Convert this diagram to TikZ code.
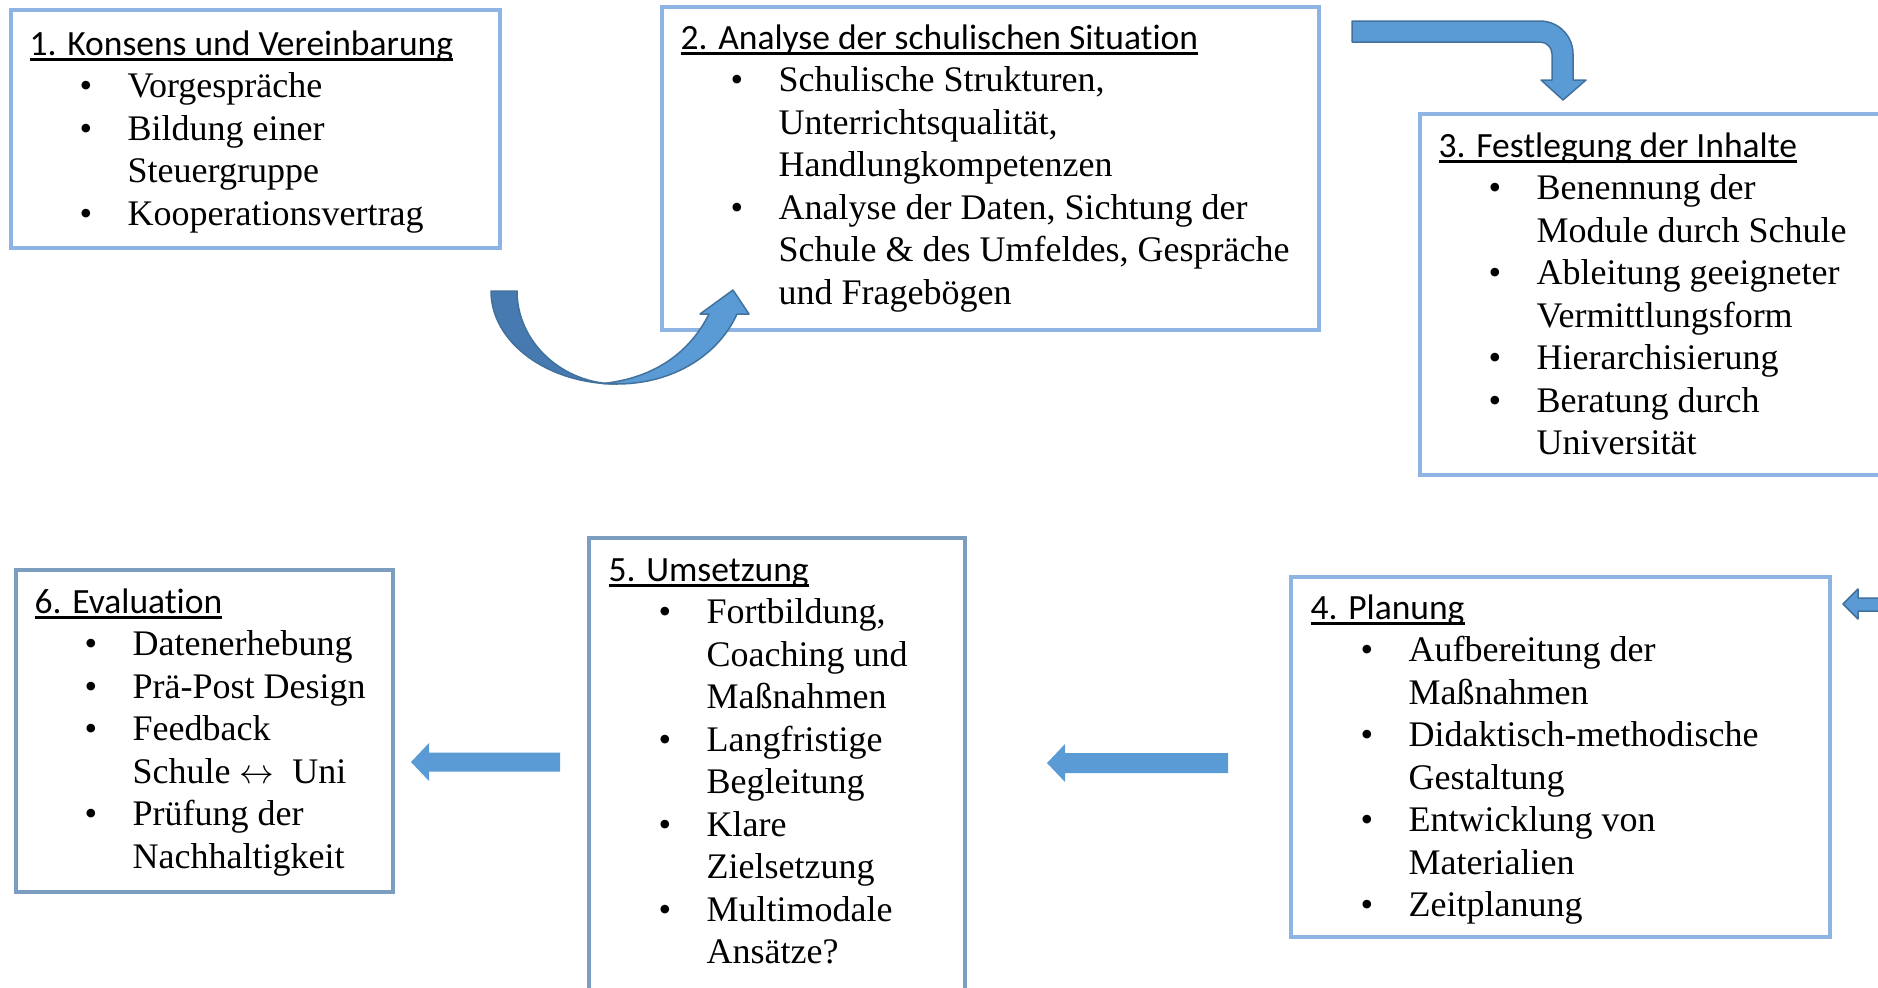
\documentclass[tikz,border=0pt]{standalone}
\usepackage{fontspec}
\setmainfont{Liberation Serif}
\newfontfamily\titlefont{Carlito}[Ligatures=NoCommon]
\definecolor{boxA}{RGB}{142,180,227}
\definecolor{boxB}{RGB}{124,157,192}
\definecolor{arrowfill}{RGB}{91,155,213}
\definecolor{arrowdark}{RGB}{70,122,176}
\definecolor{arrowline}{RGB}{65,113,156}
\newsavebox\ttlbox
\newcommand\ttl[1]{\leavevmode{\titlefont\fontsize{35.5bp}{42.5bp}\selectfont\sbox\ttlbox{#1}\rlap{\rule[-6bp]{\wd\ttlbox}{2.6bp}}\usebox\ttlbox}}
\newcommand\itm[1]{\hspace*{50bp}\makebox[48bp][l]{\textbullet}#1}
\newcommand\cnt[1]{\hspace*{98bp}#1}
\newcommand\boxtext[1]{\parbox[t]{800bp}{\fontsize{36bp}{42.5bp}\selectfont\raggedright #1}}
\begin{document}
\begin{tikzpicture}[x=1bp,y=-1bp,
  stepbox/.style={draw=boxA, line width=4bp, fill=none, inner sep=0pt, anchor=north west},
  stepboxB/.style={stepbox, draw=boxB},
  content/.style={anchor=base west, inner sep=0pt},
  blockarrow/.style={fill=arrowfill, draw=arrowline, line width=1.5bp, line join=round},
  flatarrow/.style={fill=arrowfill}]
\useasboundingbox (0,0) rectangle (1878,987);
\clip (0,0) rectangle (1878,987);

% boxes
\node[stepbox, minimum width=489bp, minimum height=238bp] (b1) at (9,8) {};
\node[stepbox, minimum width=657bp, minimum height=323bp] (b2) at (660,5) {};
\node[stepbox, minimum width=480bp, minimum height=361bp] (b3) at (1418,112) {};
\node[stepbox, minimum width=539bp, minimum height=360bp] (b4) at (1289,575) {};
\node[stepboxB, minimum width=376bp, minimum height=480bp] (b5) at (587,536) {};
\node[stepboxB, minimum width=377bp, minimum height=322bp] (b6) at (14,568) {};

% contents
\node[content] (c1) at (29.5,55) {\boxtext{%
\ttl{1. Konsens und Vereinbarung}\\
\itm{Vorgespräche}\\
\itm{Bildung einer}\\
\cnt{Steuergruppe}\\
\itm{Kooperationsvertrag}}};

\node[content] (c2) at (680.5,49) {\boxtext{%
\ttl{2. Analyse der schulischen Situation}\\
\itm{Schulische Strukturen,}\\
\cnt{Unterrichtsqualität,}\\
\cnt{Handlungkompetenzen}\\
\itm{Analyse der Daten, Sichtung der}\\
\cnt{Schule \& des Umfeldes, Gespräche}\\
\cnt{und Fragebögen}}};

\node[content] (c3) at (1438.5,157) {\boxtext{%
\ttl{3. Festlegung der Inhalte}\\
\itm{Benennung der}\\
\cnt{Module durch Schule}\\
\itm{Ableitung geeigneter}\\
\cnt{Vermittlungsform}\\
\itm{Hierarchisierung}\\
\itm{Beratung durch}\\
\cnt{Universität}}};

\node[content] (c4) at (1310.5,619) {\boxtext{%
\ttl{4. Planung}\\
\itm{Aufbereitung der}\\
\cnt{Maßnahmen}\\
\itm{Didaktisch-methodische}\\
\cnt{Gestaltung}\\
\itm{Entwicklung von}\\
\cnt{Materialien}\\
\itm{Zeitplanung}}};

\node[content] (c5) at (608.5,581) {\boxtext{%
\ttl{5. Umsetzung}\\
\itm{Fortbildung,}\\
\cnt{Coaching und}\\
\cnt{Maßnahmen}\\
\itm{Langfristige}\\
\cnt{Begleitung}\\
\itm{Klare}\\
\cnt{Zielsetzung}\\
\itm{Multimodale}\\
\cnt{Ansätze?}}};

\node[content] (c6) at (34.5,613) {\boxtext{%
\ttl{6. Evaluation}\\
\itm{Datenerhebung}\\
\itm{Prä-Post Design}\\
\itm{Feedback}\\
\cnt{Schule \scalebox{1.4}{\(\leftrightarrow\)}\ \ Uni}\\
\itm{Prüfung der}\\
\cnt{Nachhaltigkeit}}};

% curved arrow 1 -> 2
\filldraw[blockarrow, fill=arrowdark] (491,291) -- (517,291)
  .. controls (517,342) and (562,384) .. (617,384)
  .. controls (547,384) and (491,342) .. (491,291) -- cycle;
\filldraw[blockarrow] (603,383.5) -- (617,384)
  .. controls (672,384) and (718,356) .. (737,314)
  -- (749,314) -- (733,290) -- (700,314) -- (709,314)
  .. controls (690,352) and (655,378) .. (603,383.5) -- cycle;

% bent arrow 2 -> 3
\filldraw[blockarrow] (1352,21) -- (1540,21)
  .. controls (1558.2,21) and (1573,35.8) .. (1573,54)
  -- (1573,80) -- (1586,80) -- (1563,100) -- (1541,80) -- (1552,80) -- (1552,54)
  .. controls (1552,47.4) and (1546.6,42) .. (1540,42) -- (1352,42) -- cycle;

% arrow 3 -> 4 (cut at the right edge)
\filldraw[blockarrow] (1895,598) -- (1858,598) -- (1858,589) -- (1843,604)
  -- (1858,619) -- (1858,611) -- (1895,611) -- cycle;

% arrow 4 -> 5
\fill[flatarrow] (1228,753) -- (1065,753) -- (1065,744) -- (1047,763)
  -- (1065,782) -- (1065,773) -- (1228,773) -- cycle;

% arrow 5 -> 6
\fill[flatarrow] (560,752.5) -- (429,752.5) -- (429,743) -- (411,762)
  -- (429,781) -- (429,771.5) -- (560,771.5) -- cycle;
\end{tikzpicture}
\end{document}
